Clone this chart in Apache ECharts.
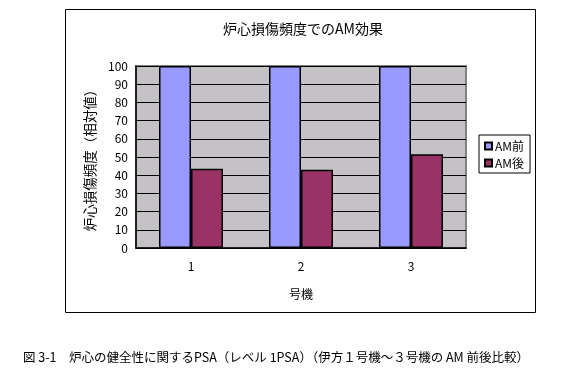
<!DOCTYPE html>
<html><head><meta charset="utf-8">
<script src="https://cdn.jsdelivr.net/npm/echarts@6/dist/echarts.min.js"></script>
<style>html,body{margin:0;padding:0;background:#fff}#c{width:576px;height:371px}</style>
</head><body><div id="c"></div>
<script>
const categories = ['1', '2', '3'];
const seriesNames = ['AM前', 'AM後'];
const before = [100, 100, 100];
const after = [43.5, 43, 51.5];
const yTicks = [0, 10, 20, 30, 40, 50, 60, 70, 80, 90, 100];

const F = '"Noto Sans CJK JP", sans-serif';
const chart = echarts.init(document.getElementById('c'), null, {renderer: 'canvas'});
chart.setOption({
  animation: false,
  backgroundColor: '#fff',
  textStyle: {fontFamily: F, color: '#000'},
  title: [{
    text: '炉心損傷頻度でのAM効果', left: 298, top: 17, textAlign: 'center',
    textStyle: {fontFamily: F, fontSize: 14, fontWeight: 'normal', color: '#000'}
  }, {
    text: '図 3-1　炉心の健全性に関するPSA（レベル 1PSA）（伊方１号機～３号機の AM 前後比較）',
    left: 18, top: 346,
    textStyle: {fontFamily: F, fontSize: 12.5, fontWeight: 'normal', color: '#000'}
  }],
  graphic: [{
    type: 'rect', shape: {x: 65.5, y: 9.5, width: 470, height: 303},
    style: {fill: 'none', stroke: '#000', lineWidth: 1}, z: -10
  }],
  legend: {
    orient: 'vertical', left: 479, top: 135, padding: [5, 6, 4, 5],
    itemGap: 5, itemWidth: 7, itemHeight: 7, icon: 'rect',
    borderColor: '#000', borderWidth: 1,
    textStyle: {fontFamily: F, fontSize: 12, color: '#000', padding: [0, 0, 0, -2]},
    data: seriesNames
  },
  grid: {
    left: 136, top: 66, right: 110, bottom: 123,
    show: true, backgroundColor: '#C4C2C4', borderColor: '#808080', borderWidth: 2
  },
  xAxis: {
    type: 'category', data: categories,
    name: '号機', nameLocation: 'middle', nameGap: 40,
    nameTextStyle: {fontFamily: F, fontSize: 12, color: '#000'},
    axisLine: {lineStyle: {color: '#000', width: 1.5}},
    axisTick: {inside: true, length: 3, lineStyle: {color: '#000'}},
    axisLabel: {fontFamily: F, fontSize: 12, color: '#000', margin: 12}
  },
  yAxis: {
    type: 'value', min: 0, max: 100, interval: 10,
    name: '炉心損傷頻度（相対値）', nameLocation: 'middle', nameGap: 37,
    nameTextStyle: {fontFamily: F, fontSize: 13.5, color: '#000'},
    axisLine: {show: true, lineStyle: {color: '#000', width: 1.5}},
    axisTick: {show: false},
    splitLine: {lineStyle: {color: '#000', width: 1}},
    axisLabel: {fontFamily: F, fontSize: 12, color: '#000', margin: 8,
      formatter: v => yTicks.includes(v) ? String(v) : ''}
  },
  series: [{
    name: seriesNames[0], type: 'bar', data: before, barWidth: 32, barGap: '0%',
    itemStyle: {color: '#9999FF', borderColor: '#000', borderWidth: 1.5}
  }, {
    name: seriesNames[1], type: 'bar', data: after, barWidth: 32,
    itemStyle: {color: '#993366', borderColor: '#000', borderWidth: 1.5}
  }]
});
</script></body></html>
